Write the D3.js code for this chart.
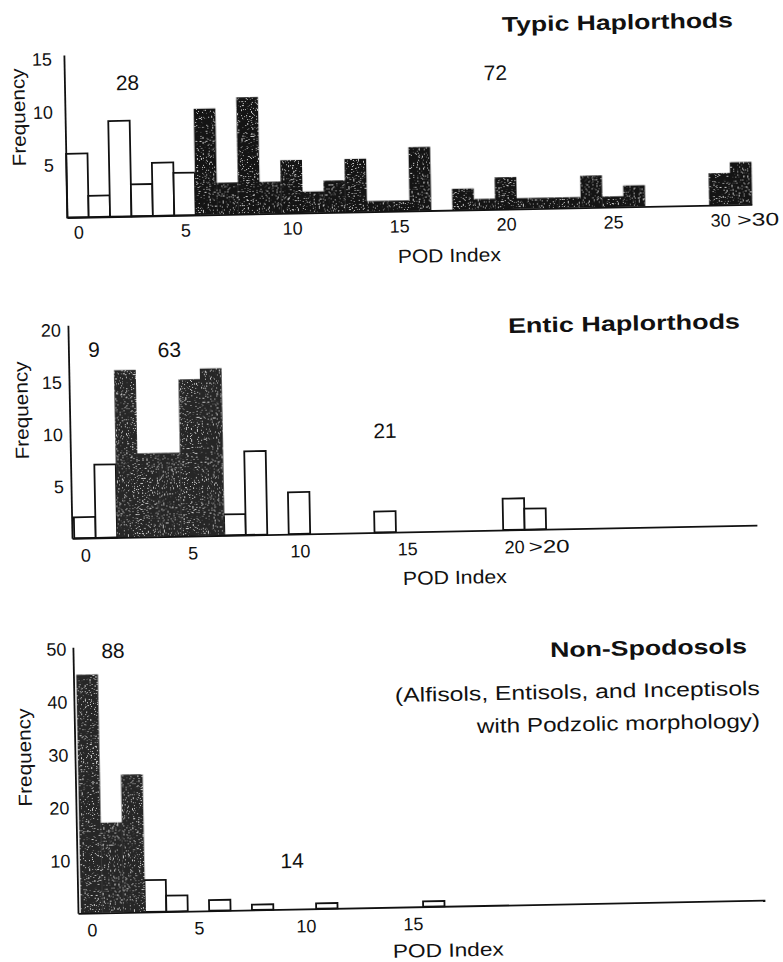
<!DOCTYPE html>
<html>
<head>
<meta charset="utf-8">
<script src="https://cdn.jsdelivr.net/npm/d3@7"></script>
<style>
  body { margin: 0; background: #fff; }
  svg text { font-family: "Liberation Sans", Arial, sans-serif; fill: #111; }
</style>
</head>
<body>
<div id="chart"></div>
<script>
// frequency per POD Index class (0, 1, 2, ... ; last class is the open ">" class)
const typicFreq = [6, 2, 9, 3, 5, 4, 10, 3, 11, 3, 5, 2, 3, 5, 1, 1, 6, 0, 2, 1, 3, 1, 1, 1, 3, 1, 2, 0, 0, 0, 3, 4];
const typicShaded = [6, 31];            // first / last shaded class
const typicXTicks = [0, 5, 10, 15, 20, 25, 30, 31];
const typicXLabels = ["0", "5", "10", "15", "20", "25", "30", ">30"];
const typicYTicks = [5, 10, 15];
const typicGroups = ["28", "72"];

const enticFreq = [2, 7, 16, 8, 8, 15, 16, 2, 8, 0, 4, 0, 0, 0, 2, 0, 0, 0, 0, 0, 3, 2];
const enticShaded = [2, 6];
const enticXTicks = [0, 5, 10, 15, 20, 21];
const enticXLabels = ["0", "5", "10", "15", "20", ">20"];
const enticYTicks = [5, 10, 15, 20];
const enticGroups = ["9", "63", "21"];

const nonSpodFreq = [45, 17, 26, 6, 3, 0, 2, 0, 1, 0, 0, 1, 0, 0, 0, 0, 1];
const nonSpodShaded = [0, 2];
const nonSpodXTicks = [0, 5, 10, 15];
const nonSpodXLabels = ["0", "5", "10", "15"];
const nonSpodYTicks = [10, 20, 30, 40, 50];
const nonSpodGroups = ["88", "14"];

// the scanned page is turned a little, so every panel is drawn in a tilted frame
const tilt = 1.1;

const svg = d3.select("#chart").append("svg")
  .attr("width", 783)
  .attr("height", 962);

const defs = svg.append("defs");
const grain = defs.append("filter").attr("id", "grain")
  .attr("color-interpolation-filters", "sRGB");
grain.append("feTurbulence").attr("type", "fractalNoise")
  .attr("baseFrequency", 0.8).attr("numOctaves", 2).attr("seed", 4).attr("result", "noise");
grain.append("feColorMatrix").attr("in", "noise").attr("type", "matrix")
  .attr("values", "0 0 0 0 0.8  0 0 0 0 0.8  0 0 0 0 0.8  14 0 0 0 -8.7")
  .attr("result", "dots");
grain.append("feComposite").attr("in", "dots").attr("in2", "SourceGraphic")
  .attr("operator", "in").attr("result", "spots");
const merge = grain.append("feMerge");
merge.append("feMergeNode").attr("in", "SourceGraphic");
merge.append("feMergeNode").attr("in", "spots");

function drawPanel(freq, shaded, xTicks, xLabels, yTicks, groups, p) {
  const g = svg.append("g")
    .attr("transform", "translate(" + p.x0 + "," + p.y0 + ") rotate(" + (-tilt) + ")");

  const x = d3.scaleLinear()
    .domain([-p.xZero / p.xUnit, (p.xLen - p.xZero) / p.xUnit])
    .range([0, p.xLen]);
  const y = d3.scaleLinear()
    .domain([0, p.yLen / p.yUnit])
    .range([0, -p.yLen]);

  const bins = freq.map(function(v, i) {
    return { i: i, v: v, dark: i >= shaded[0] && i <= shaded[1] };
  });

  // open bars
  g.selectAll("rect.open")
    .data(bins.filter(d => !d.dark && d.v > 0))
    .join("rect")
    .attr("class", "open")
    .attr("x", d => x(d.i - 0.5))
    .attr("width", d => x(d.i + 0.5) - x(d.i - 0.5))
    .attr("y", d => y(d.v))
    .attr("height", d => y(0) - y(d.v))
    .attr("fill", "#fff")
    .attr("stroke", "#111")
    .attr("stroke-width", 1.8);

  // shaded bars
  g.append("g")
    .attr("filter", "url(#grain)")
    .selectAll("rect")
    .data(bins.filter(d => d.dark && d.v > 0))
    .join("rect")
    .attr("x", d => x(d.i - 0.5))
    .attr("width", d => x(d.i + 0.5) - x(d.i - 0.5) + 0.3)
    .attr("y", d => y(d.v))
    .attr("height", d => y(0) - y(d.v))
    .attr("fill", p.shade);

  // axes
  const lastTick = xTicks[xTicks.length - 1];
  const xAxis = g.append("g")
    .call(d3.axisBottom(x)
      .tickValues(xTicks)
      .tickFormat(d => xLabels[xTicks.indexOf(d)])
      .tickSize(0)
      .tickSizeOuter(0));
  xAxis.selectAll("text")
    .attr("y", p.xTickY).attr("dy", null)
    .style("font-size", "18px")
    .attr("dx", d => d === lastTick && p.lastDx ? p.lastDx : 0)
    .each(function(d) {
      if (d === lastTick && p.lastLen) {
        d3.select(this).attr("textLength", p.lastLen).attr("lengthAdjust", "spacingAndGlyphs");
      }
    });

  const yAxis = g.append("g")
    .call(d3.axisLeft(y)
      .tickValues(yTicks)
      .tickSize(0)
      .tickSizeOuter(0)
      .tickPadding(-p.yTickX));
  yAxis.selectAll("text")
    .attr("dy", "0.36em")
    .style("font-size", "18px");

  g.selectAll(".domain").attr("stroke", "#111").attr("stroke-width", 1.8);

  // labels
  g.append("text")
    .attr("x", p.freq[0]).attr("y", p.freq[1])
    .attr("transform", "rotate(-90," + p.freq[0] + "," + p.freq[1] + ")")
    .attr("text-anchor", "middle")
    .attr("textLength", 98).attr("lengthAdjust", "spacingAndGlyphs")
    .style("font-size", "19px")
    .text("Frequency");

  g.append("text")
    .attr("x", p.pod[0]).attr("y", p.pod[1])
    .attr("textLength", p.pod[2]).attr("lengthAdjust", "spacingAndGlyphs")
    .style("font-size", "19px")
    .text("POD Index");

  p.titles.forEach(function(t) {
    g.append("text")
      .attr("x", t.x).attr("y", t.y)
      .attr("textLength", t.len).attr("lengthAdjust", "spacingAndGlyphs")
      .style("font-size", t.size + "px")
      .style("font-weight", t.bold ? "bold" : "normal")
      .text(t.text);
  });

  g.selectAll("text.grp")
    .data(groups)
    .join("text")
    .attr("class", "grp")
    .attr("x", (d, i) => p.groupPos[i][0])
    .attr("y", (d, i) => p.groupPos[i][1])
    .attr("text-anchor", "middle")
    .style("font-size", "21px")
    .text(d => d);
}

drawPanel(typicFreq, typicShaded, typicXTicks, typicXLabels, typicYTicks, typicGroups, {
  x0: 67, y0: 217.5, xZero: 11, xUnit: 21.4, yUnit: 10.62, xLen: 685, yLen: 162.5,
  xTickY: 21.5, yTickX: -12, lastDx: 16, lastLen: 42, shade: "#141414",
  freq: [-40, -101], pod: [330, 51.9, 103],
  titles: [{ text: "Typic Haplorthods", x: 438.6, y: -177.4, len: 231, size: 21, bold: true }],
  groupPos: [[63, -126.3], [431, -129.3]]
});

drawPanel(enticFreq, enticShaded, enticXTicks, enticXLabels, enticYTicks, enticGroups, {
  x0: 72, y0: 538.3, xZero: 13, xUnit: 21.45, yUnit: 10.45, xLen: 685, yLen: 213,
  xTickY: 23.5, yTickX: -7, lastDx: 13, lastLen: 41, shade: "#262626",
  freq: [-41.5, -128.8], pod: [330, 53, 104],
  titles: [{ text: "Entic Haplorthods", x: 440, y: -197, len: 232, size: 21, bold: true }],
  groupPos: [[25.5, -180.9], [101, -179.4], [315, -94.3]]
});

drawPanel(nonSpodFreq, nonSpodShaded, nonSpodXTicks, nonSpodXLabels, nonSpodYTicks, nonSpodGroups, {
  x0: 78, y0: 913.3, xZero: 13.5, xUnit: 21.4, yUnit: 5.3, xLen: 687, yLen: 266,
  xTickY: 23.5, yTickX: -6.5, shade: "#262626",
  freq: [-44, -156.7], pod: [314, 50.5, 111],
  titles: [
    { text: "Non-Spodosols", x: 477, y: -247.2, len: 197, size: 21, bold: true },
    { text: "(Alfisols, Entisols, and Inceptisols", x: 321, y: -205.2, len: 365, size: 20, bold: false },
    { text: "with Podzolic morphology)", x: 402.5, y: -172.6, len: 283, size: 20, bold: false }
  ],
  groupPos: [[40, -254.6], [215, -41.2]]
});
</script>
</body>
</html>
